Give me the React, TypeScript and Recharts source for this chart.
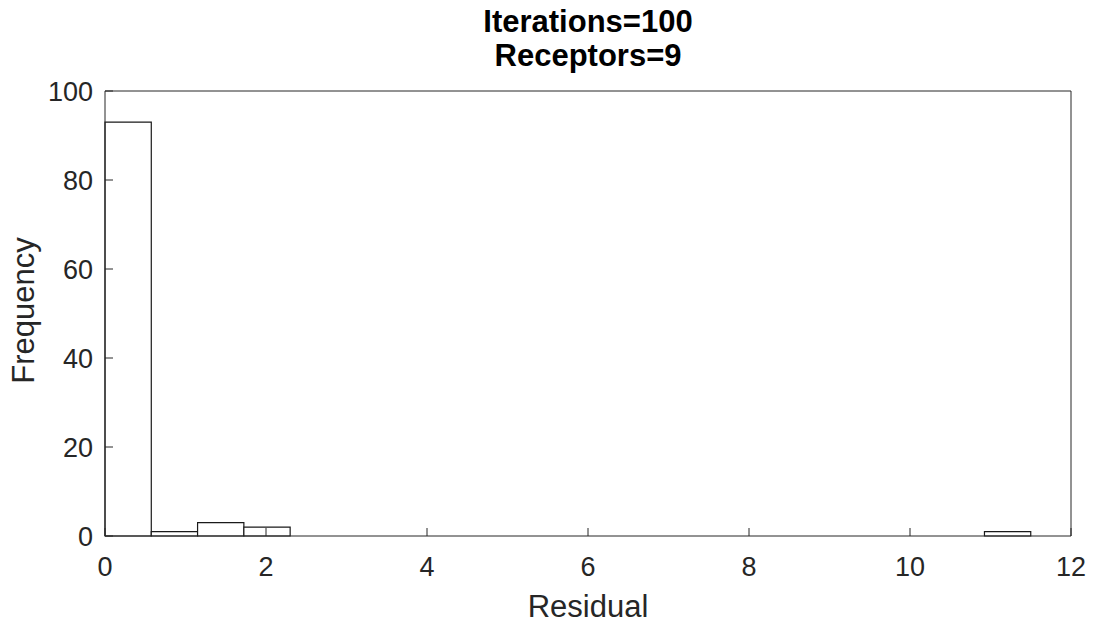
import React from 'react';
import { ComposedChart, XAxis, YAxis, ReferenceArea, Label } from 'recharts';

// Histogram data (bin width and counts per bin, starting at 0)
const binWidth = 0.575;
const binCounts = [93, 1, 3, 2, 0, 0, 0, 0, 0, 0, 0, 0, 0, 0, 0, 0, 0, 0, 0, 1];
const xTicks = [0, 2, 4, 6, 8, 10, 12];
const yTicks = [0, 20, 40, 60, 80, 100];
const titleLines = ['Iterations=100', 'Receptors=9'];
const xLabel = 'Residual';
const yLabel = 'Frequency';

const bins = binCounts
  .map((count, i) => ({ x1: i * binWidth, x2: (i + 1) * binWidth, count }))
  .filter((b) => b.count > 0);

const FONT = '"Liberation Sans", Arial, Helvetica, sans-serif';
const AXIS_COLOR = '#262626';

export default function App() {
  return (
    <div style={{ position: 'absolute', left: 0, top: 0, width: 1097, height: 625, background: '#fff', fontFamily: FONT }}>
      <ComposedChart width={1097} height={625} margin={{ top: 90, right: 25, bottom: 29, left: 0 }}>
        <XAxis
          xAxisId={0}
          type="number"
          dataKey="x"
          domain={[0, 12]}
          ticks={xTicks}
          allowDataOverflow
          height={60}
          stroke={AXIS_COLOR}
          tickSize={-8}
          tickMargin={29}
          tick={{ fontSize: 27, fill: AXIS_COLOR, fontFamily: FONT }}
        >
          <Label value={xLabel} position="insideBottom" offset={-21} style={{ fontSize: 31, fill: AXIS_COLOR, fontFamily: FONT }} />
        </XAxis>
        <XAxis
          xAxisId="top"
          orientation="top"
          type="number"
          domain={[0, 12]}
          ticks={xTicks}
          allowDataOverflow
          height={1}
          stroke={AXIS_COLOR}
          tickSize={-8}
          tick={false}
        />
        <YAxis
          yAxisId={0}
          type="number"
          domain={[0, 100]}
          ticks={yTicks}
          allowDataOverflow
          width={105}
          stroke={AXIS_COLOR}
          tickSize={-8}
          tickMargin={20}
          tick={{ fontSize: 27, fill: AXIS_COLOR, fontFamily: FONT }}
        >
          <Label value={yLabel} angle={-90} position="center" dx={-30} dy={-3} style={{ fontSize: 31, fill: AXIS_COLOR, fontFamily: FONT, textAnchor: 'middle' }} />
        </YAxis>
        <YAxis
          yAxisId="right"
          orientation="right"
          type="number"
          domain={[0, 100]}
          ticks={yTicks}
          allowDataOverflow
          width={1}
          stroke={AXIS_COLOR}
          tickSize={-8}
          tick={false}
        />
        {bins.map((b, i) => (
          <ReferenceArea
            key={i}
            xAxisId={0}
            yAxisId={0}
            x1={b.x1}
            x2={b.x2}
            y1={0}
            y2={b.count}
            fill="#ffffff"
            fillOpacity={1}
            stroke="#1a1a1a"
            strokeWidth={1.2}
            isAnimationActive={false}
          />
        ))}
      </ComposedChart>
      <svg width={1097} height={100} style={{ position: 'absolute', left: 0, top: 0, pointerEvents: 'none' }}>
        <text x={588} y={32} textAnchor="middle" fontFamily={FONT} fontWeight="bold" fontSize={31} fill="#000">
          {titleLines[0]}
        </text>
        <text x={588} y={66} textAnchor="middle" fontFamily={FONT} fontWeight="bold" fontSize={31} fill="#000">
          {titleLines[1]}
        </text>
      </svg>
    </div>
  );
}
